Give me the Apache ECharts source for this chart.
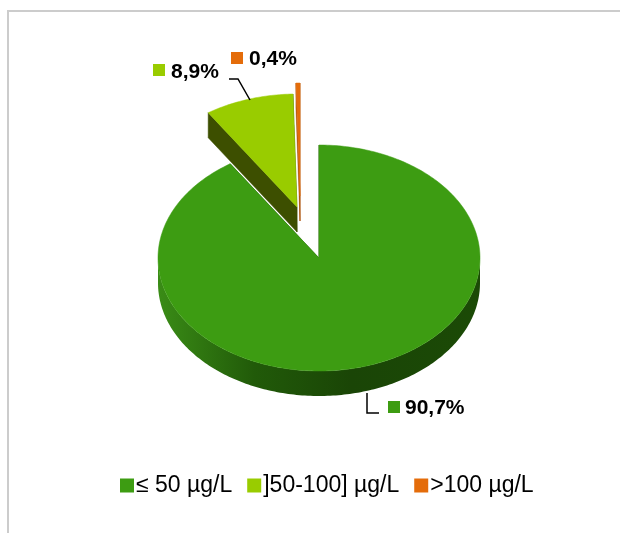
<!DOCTYPE html>
<html>
<head>
<meta charset="utf-8">
<script src="https://cdn.jsdelivr.net/npm/echarts@6/dist/echarts.min.js"></script>
<style>html,body{margin:0;padding:0;background:#fff;}#chart{width:620px;height:533px;}</style>
</head>
<body>
<div id="chart"></div>
<script>
// ---- data ----
const categories = ['≤ 50 µg/L', ']50-100] µg/L', '>100 µg/L'];
const values = [90.7, 8.9, 0.4];

// ---- styling / layout ----
const topColors = ['#3d9c12', '#99cc00', '#e46c0a'];
const wallColors = ['#1d4d07', '#3d4f00', '#a84f06'];
const pie = { cx: 319, cy: 258, rx: 161, ry: 113, depth: 25 };
const explode = [[0, 0], [-22, -51], [-19, -62]];
const labelLayout = [
  { sq: [388, 401], tx: 405, ty: 408, leader: [[367, 393], [367, 413], [379, 413]] },
  { sq: [153, 64], tx: 171, ty: 72, leader: [[229, 79], [238, 79], [250, 100]] },
  { sq: [231, 52], tx: 249, ty: 59, leader: null }
];
const fontFamily = '"Liberation Sans", Arial, sans-serif';

const total = values.reduce((a, b) => a + b, 0);
function fmt(v) { return (v / total * 100).toFixed(1).replace('.', ',') + '%'; }

function rimPt(deg, ox, oy, dy) {
  const t = deg * Math.PI / 180;
  return [pie.cx + ox + pie.rx * Math.sin(t), pie.cy + oy - pie.ry * Math.cos(t) + (dy || 0)];
}
function arcPts(a0, a1, ox, oy, dy) {
  const pts = [];
  const n = Math.max(2, Math.ceil(Math.abs(a1 - a0) / 1));
  for (let k = 0; k <= n; k++) pts.push(rimPt(a0 + (a1 - a0) * k / n, ox, oy, dy));
  return pts;
}

function renderItem(params, api) {
  const i = params.seriesIndex;
  const v = api.value(0);
  let start = 0;
  for (let j = 0; j < i; j++) start += values[j];
  const a0 = start / total * 360;
  const a1 = (start + v) / total * 360;
  const [ox, oy] = explode[i];
  const d = pie.depth;
  const vx = pie.cx + ox, vy = pie.cy + oy;
  const children = [];
  // radial walls
  [a0, a1].forEach(a => {
    const r = rimPt(a, ox, oy, 0), rb = rimPt(a, ox, oy, d);
    children.push({ type: 'polygon', shape: { points: [[vx, vy], r, rb, [vx, vy + d]] },
      style: { fill: wallColors[i], stroke: wallColors[i], lineWidth: 0.5 } });
  });
  // outer wall (front half)
  const w0 = Math.max(a0, 90), w1 = Math.min(a1, 270);
  if (w1 > w0) {
    const topArc = arcPts(w0, w1, ox, oy, 0);
    const botArc = arcPts(w1, w0, ox, oy, d);
    const fill = i === 0 ? { type: 'linear', x: 0, y: 0, x2: 1, y2: 0, colorStops: [
      { offset: 0, color: '#3a8c16' }, { offset: 0.3, color: '#215a09' },
      { offset: 0.6, color: '#1a4506' }, { offset: 1, color: '#1b4a06' }] } : wallColors[i];
    children.push({ type: 'polygon', shape: { points: topArc.concat(botArc) }, style: { fill: fill } });
  }
  // top face
  const face = [[vx, vy]].concat(arcPts(a0, a1, ox, oy, 0));
  children.push({ type: 'polygon', shape: { points: face },
    style: { fill: topColors[i], stroke: topColors[i], lineWidth: 0.5 } });
  // label
  const L = labelLayout[i];
  if (L.leader) {
    children.push({ type: 'polyline', shape: { points: L.leader },
      style: { stroke: '#000', lineWidth: 1.5, fill: null } });
  }
  children.push({ type: 'rect', shape: { x: L.sq[0], y: L.sq[1], width: 12, height: 12 },
    style: { fill: topColors[i] } });
  children.push({ type: 'text', style: { x: L.tx, y: L.ty, text: fmt(v),
    font: 'bold 21px ' + fontFamily, fill: '#000', verticalAlign: 'middle', align: 'left' } });
  return { type: 'group', children: children };
}

const chart = echarts.init(document.getElementById('chart'), null, { renderer: 'canvas' });
chart.setOption({
  animation: false,
  backgroundColor: '#fff',
  graphic: [
    { type: 'line', shape: { x1: 7, y1: 11, x2: 620, y2: 11 }, style: { stroke: '#cccccc', lineWidth: 2 } },
    { type: 'line', shape: { x1: 8, y1: 10, x2: 8, y2: 533 }, style: { stroke: '#cccccc', lineWidth: 2 } }
  ],
  legend: {
    data: categories,
    left: 115, top: 469,
    icon: 'rect', itemWidth: 14, itemHeight: 14, itemGap: 15,
    textStyle: { fontSize: 23, color: '#000', fontFamily: fontFamily, padding: [0, 0, 0, -3] }
  },
  series: categories.map((c, i) => ({
    type: 'custom', name: c, coordinateSystem: 'none', z: 3 - i,
    itemStyle: { color: topColors[i] },
    renderItem: renderItem,
    data: [[values[i]]]
  }))
});
</script>
</body>
</html>
